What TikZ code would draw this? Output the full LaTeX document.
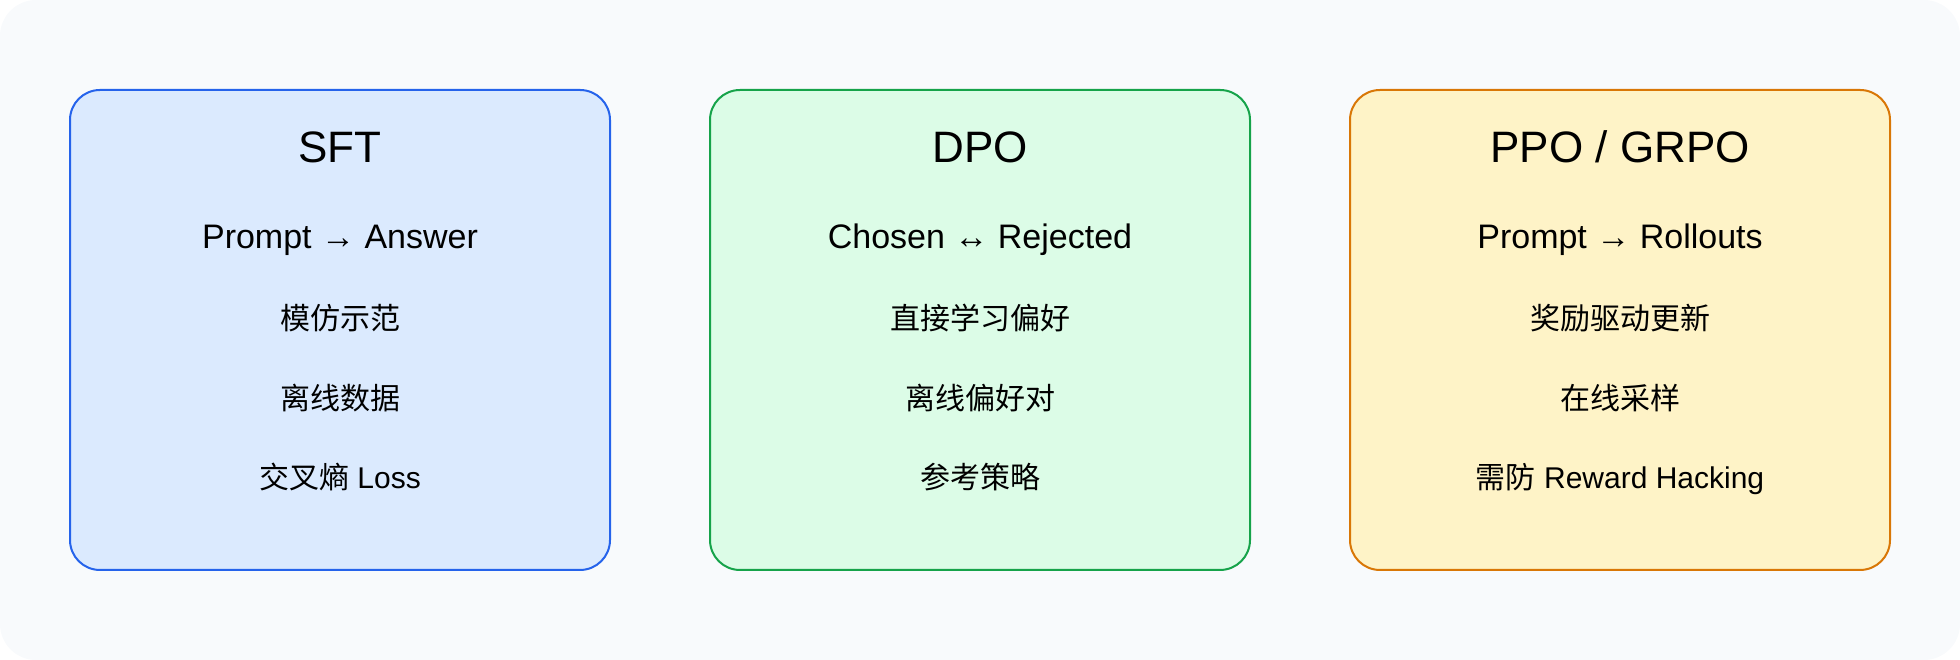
\documentclass[tikz,border=0pt]{standalone}
\usepackage{fontspec}
\setmainfont{Liberation Sans}
\newfontfamily\cjk{Noto Sans CJK SC}
\usetikzlibrary{positioning}

\definecolor{bgpage}{HTML}{F8FAFC}
\definecolor{sftfill}{HTML}{DBEAFE}
\definecolor{sftline}{HTML}{2563EB}
\definecolor{dpofill}{HTML}{DCFCE7}
\definecolor{dpoline}{HTML}{16A34A}
\definecolor{ppofill}{HTML}{FEF3C7}
\definecolor{ppoline}{HTML}{D97706}

\begin{document}
\begin{tikzpicture}[x=1pt, y=1pt,
  cardbox/.style={draw, line width=2pt, rounded corners=30pt,
    minimum width=540pt, minimum height=480pt, inner sep=0pt},
  headline/.style={anchor=base, font=\fontsize{44}{52}\selectfont},
  flowline/.style={anchor=base, font=\fontsize{34}{40}\selectfont},
  itemline/.style={anchor=base, font=\fontsize{30}{36}\selectfont}]
  %----- 背景 -----
  \useasboundingbox (0,0) rectangle (1960,660);
  \fill[bgpage, rounded corners=36pt] (0,0) rectangle (1960,660);

  %----- 卡片 (name, x, color, title, line1, line2, line3, line4) -----
  \def\card#1#2#3#4#5#6#7#8{
    \node[cardbox, draw=#3line, fill=#3fill] (#1) at (#2,330) {};
    % 標題與各行,以卡片頂邊為基準
    \node[headline] (#1-title) at ([yshift=-74pt]#1.north) {#4};
    \node[flowline] (#1-flow)  at ([yshift=-160pt]#1.north) {#5};
    \node[itemline] (#1-a)     at ([yshift=-241pt]#1.north) {#6};
    \node[itemline] (#1-b)     at ([yshift=-321pt]#1.north) {#7};
    \node[itemline] (#1-c)     at ([yshift=-400pt]#1.north) {#8};
  }

  %----- 三種方法 -----
  \card{sft}{340}{sft}{SFT}{Prompt → Answer}
    {\cjk 模仿示范}{\cjk 离线数据}{{\cjk 交叉熵} Loss}
  \card{dpo}{980}{dpo}{DPO}{Chosen ↔ Rejected}
    {\cjk 直接学习偏好}{\cjk 离线偏好对}{\cjk 参考策略}
  \card{ppo}{1620}{ppo}{PPO / GRPO}{Prompt → Rollouts}
    {\cjk 奖励驱动更新}{\cjk 在线采样}{{\cjk 需防} Reward Hacking}
\end{tikzpicture}
\end{document}
